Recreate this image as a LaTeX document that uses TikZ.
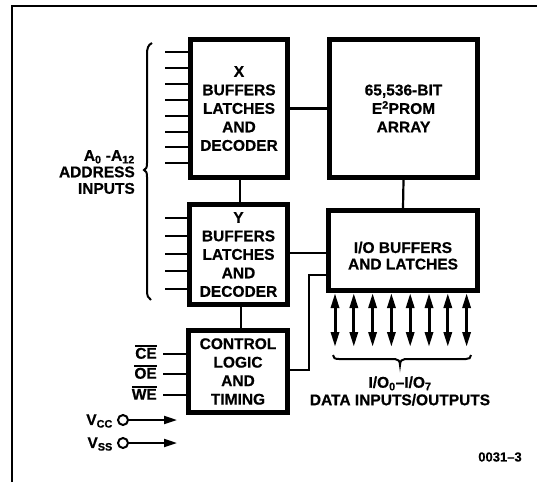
\documentclass[tikz,border=0pt]{standalone}
\usepackage{fontspec}
\setmainfont{Liberation Sans}[BoldFeatures={FakeBold=0.6}]
\usetikzlibrary{arrows.meta,calc}
\newcommand\ovl[1]{\leavevmode\vbox{\hrule height 1.4pt\kern1.3pt\hbox{#1}}}
\begin{document}
\begin{tikzpicture}[x=1pt,y=-1pt,
  blk/.style={draw,line width=5pt,align=center,inner sep=0pt,
    font=\fontsize{15.5}{18.5}\selectfont\bfseries},
  conn/.style={line width=2.2pt},
  addr/.style={line width=2pt},
  lbl/.style={font=\fontsize{15.5}{16.5}\selectfont\bfseries,inner sep=0pt,align=right},
  bidir/.style={line width=3pt,{Triangle[length=15pt,width=8pt]}-{Triangle[length=15pt,width=8pt]}},
  pwr/.style={line width=2pt,-{Triangle[length=13pt,width=8pt]}},
  pin/.style={circle,draw,line width=2pt,minimum size=10pt,inner sep=0pt},
  brace/.style={line width=2pt}]
\useasboundingbox (0,0) rectangle (537,482);
% frame
\draw[line width=2pt] (12,482) -- (12,6) -- (537,6);
% blocks
\node[blk,minimum width=97pt,minimum height=138pt] (xb) at (239,108.5)
  {X\\BUFFERS\\LATCHES\\AND\\DECODER};
\node[blk,minimum width=148pt,minimum height=138pt] (arr) at (403.5,108.5)
  {65,536-BIT\\E\textsuperscript{2}PROM\\ARRAY};
\node[blk,minimum width=98pt,minimum height=100pt] (yb) at (238.5,254.5)
  {Y\\BUFFERS\\LATCHES\\AND\\DECODER};
\node[blk,minimum width=99pt,minimum height=82pt] (ctl) at (238,371.5)
  {CONTROL\\LOGIC\\AND\\TIMING};
\node[blk,minimum width=149pt,minimum height=80pt] (io) at (403,250.5)
  {\raisebox{-7pt}[\height][\depth]{\begin{tabular}{@{}c@{}}I/O BUFFERS\\[-2pt]AND LATCHES\end{tabular}}};
% connectors
\draw[conn] (xb.east) -- (arr.west);
\draw[conn] ([xshift=1pt]xb.south) -- ([xshift=1.5pt]yb.north);
\draw[conn] ([xshift=2.5pt]yb.south) -- ([xshift=3pt]ctl.north);
\draw[conn] (arr.south) -- (io.north);
\draw[conn] ([yshift=1.5pt]yb.east) -- ([yshift=1.5pt]yb.east -| io.west);
\draw[conn] ([yshift=1.5pt]ctl.east) -| ($(io.west)+(-17pt,-24.5pt)$) -- ($(io.west)+(0pt,-24.5pt)$);
% address inputs
\foreach \i in {0,...,7}{
  \coordinate (ax\i) at (165,{52+15.9*\i});
  \draw[addr] (ax\i) -- (ax\i -| xb.west);
}
\foreach \i in {0,...,4}{
  \coordinate (ay\i) at (165,{218+17.75*\i});
  \draw[addr] (ay\i) -- (ay\i -| yb.west);
}
\draw[brace] (152,43) .. controls (148,45) and (147,48) .. (147,55) -- (147,163)
  .. controls (147,168) and (146,169) .. (144,170)
  .. controls (146,171) and (147,172) .. (147,177) -- (147,290)
  .. controls (147,296) and (148,298) .. (151,300);
\node[lbl,anchor=east] (addrlbl) at (135,172)
  {A\textsubscript{0} -A\textsubscript{12}\\ADDRESS\\INPUTS};
% control inputs
\node[lbl,anchor=east] (ce) at (157,352) {\ovl{CE}};
\node[lbl,anchor=east] (oe) at (157,372) {\ovl{OE}};
\node[lbl,anchor=east] (we) at (157,393) {\ovl{WE}};
\foreach \s in {ce,oe,we}{
  \draw[addr] ([xshift=6pt]\s.east |- \s.base) ++(0,-5) coordinate (\s p) -- (\s p -| ctl.west);
}
% power
\node[pin] (vccp) at (123,420) {};
\node[pin] (vssp) at (123,443) {};
\node[lbl,anchor=east] (vcc) at (113,421) {V\textsubscript{CC}};
\node[lbl,anchor=east] (vss) at (113,444) {V\textsubscript{SS}};
\coordinate (vcce) at (177,420);
\coordinate (vsse) at (177,443);
\draw[pwr] (vccp) -- (vcce);
\draw[pwr] (vssp) -- (vsse);
% data I/O
\foreach \i in {0,...,7}{
  \coordinate (d\i) at ({335+18.8*\i},347);
  \draw[bidir] (d\i |- io.south) -- (d\i);
}
\draw[brace] (333,355) .. controls (333,358) and (335,359) .. (339,359) -- (395,359)
  .. controls (398,359) and (400,361) .. (400,365)
  .. controls (400,361) and (402,359) .. (405,359) -- (466,359)
  .. controls (469,359) and (471,358) .. (471,355);
\node[lbl,align=center] (dlbl) at (400,391)
  {I/O\textsubscript{0}--I/O\textsubscript{7}\\[1pt]DATA INPUTS/OUTPUTS};
\node[font=\fontsize{13}{13}\selectfont\bfseries,inner sep=0pt] (fig) at (500,457) {0031--3};
\end{tikzpicture}
\end{document}
